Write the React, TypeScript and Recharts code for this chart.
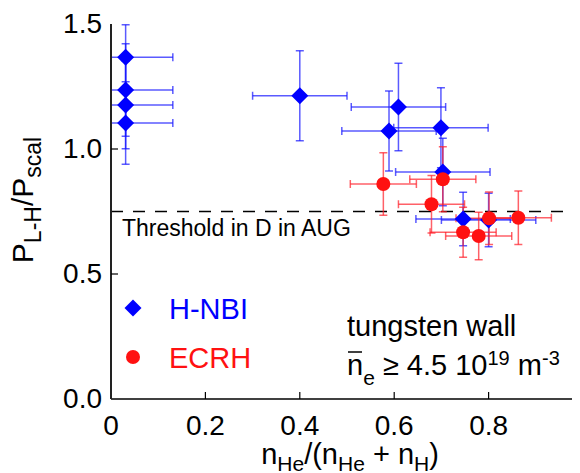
import React from 'react';
import { ScatterChart, Scatter, XAxis, YAxis, ErrorBar, ReferenceLine, Legend } from 'recharts';

const FONT = '"Liberation Sans", Arial, Helvetica, sans-serif';

const xTicks = [0, 0.2, 0.4, 0.6, 0.8, 1];
const xTickLabels = ['0', '0.2', '0.4', '0.6', '0.8', '1'];
const yTicks = [0, 0.5, 1, 1.5];
const yTickLabels = ['0.0', '0.5', '1.0', '1.5'];

// H-NBI series
const nbiX = [0.031, 0.031, 0.031, 0.031, 0.4, 0.609, 0.589, 0.699, 0.703, 0.746, 0.8];
const nbiY = [1.367, 1.236, 1.176, 1.104, 1.213, 1.168, 1.072, 1.085, 0.908, 0.72, 0.716];
const nbiYErr = [0.13, 0.185, 0.175, 0.165, 0.18, 0.175, 0.16, 0.16, 0.135, 0.107, 0.107];
const nbiXErrLow = [0.031, 0.031, 0.031, 0.031, 0.1, 0.1, 0.1, 0.1, 0.1, 0.1, 0.1];
const nbiXErrHigh = [0.1, 0.1, 0.1, 0.1, 0.1, 0.1, 0.1, 0.1, 0.1, 0.1, 0.1];

// ECRH series
const ecrhX = [0.577, 0.703, 0.679, 0.746, 0.779, 0.801, 0.863];
const ecrhY = [0.86, 0.879, 0.779, 0.667, 0.652, 0.723, 0.725];
const ecrhYErr = [0.125, 0.13, 0.115, 0.1, 0.095, 0.105, 0.107];
const ecrhXErr = [0.07, 0.07, 0.07, 0.07, 0.07, 0.07, 0.07];

const threshold = 0.75;
const seriesNames = ['H-NBI', 'ECRH'];
const seriesColors = ['#0000ff', '#ff1111'];
const thresholdText = 'Threshold in D in AUG';
const noteLine1 = 'tungsten wall';

const nbiData = nbiX.map((x, i) => ({ x, y: nbiY[i], ey: nbiYErr[i], ex: [nbiXErrLow[i], nbiXErrHigh[i]] }));
const ecrhData = ecrhX.map((x, i) => ({ x, y: ecrhY[i], ey: ecrhYErr[i], ex: ecrhXErr[i] }));

const Diamond = (props: any) => {
  const { cx, cy } = props;
  const r = 8.5;
  return <path d={`M${cx},${cy - r}L${cx + r},${cy}L${cx},${cy + r}L${cx - r},${cy}Z`} fill={seriesColors[0]} />;
};
const Dot = (props: any) => {
  const { cx, cy } = props;
  return <circle cx={cx} cy={cy} r={7} fill={seriesColors[1]} />;
};

const renderXTick = (p: any) => {
  const idx = xTicks.indexOf(p.payload.value);
  const inner = p.payload.value > 0 && p.payload.value < 1;
  return (
    <g key={`xt-${p.index}`}>
      {inner && <line x1={p.x} x2={p.x} y1={p.y} y2={p.y - 7} stroke="#000" strokeWidth={1.2} />}
      <text x={p.x} y={p.y + 36} textAnchor="middle" fontSize={28} fontFamily={FONT} fill="#000">
        {xTickLabels[idx]}
      </text>
    </g>
  );
};
const renderTopTick = (p: any) => {
  const inner = p.payload.value > 0 && p.payload.value < 1;
  return (
    <g key={`tt-${p.index}`}>
      {inner && <line x1={p.x} x2={p.x} y1={p.y} y2={p.y + 7} stroke="#000" strokeWidth={1.2} />}
    </g>
  );
};
const renderYTick = (p: any) => {
  const idx = yTicks.indexOf(p.payload.value);
  const inner = p.payload.value > 0 && p.payload.value < 1.5;
  return (
    <g key={`yt-${p.index}`}>
      {inner && <line x1={p.x} x2={p.x + 7} y1={p.y} y2={p.y} stroke="#000" strokeWidth={1.2} />}
      <text x={p.x - 9} y={p.y + 9} textAnchor="end" fontSize={28} fontFamily={FONT} fill="#000">
        {yTickLabels[idx]}
      </text>
    </g>
  );
};

const XLabel = (props: any) => {
  const vb = props.viewBox || { x: 103, y: 391, width: 472 };
  const cx = vb.x + vb.width / 2 + 3;
  const by = vb.y + 65;
  return (
    <text x={cx} y={by} textAnchor="middle" fontSize={29} fontFamily={FONT} fill="#000">
      <tspan>n</tspan>
      <tspan fontSize={21} dy={7}>He</tspan>
      <tspan dy={-7}>/(n</tspan>
      <tspan fontSize={21} dy={7}>He</tspan>
      <tspan dy={-7}> + n</tspan>
      <tspan fontSize={21} dy={7}>H</tspan>
      <tspan dy={-7}>)</tspan>
    </text>
  );
};

const YLabel = () => {
  const x = 25;
  const y = 192;
  return (
    <text x={x} y={y} transform={`rotate(-90, ${x}, ${y})`} textAnchor="middle" fontSize={30} fontFamily={FONT} fill="#000">
      <tspan>P</tspan>
      <tspan fontSize={23} dy={8}>L-H</tspan>
      <tspan dy={-8}>/P</tspan>
      <tspan fontSize={23} dy={8}>scal</tspan>
    </text>
  );
};

const ThresholdLabel = (props: any) => {
  const vb = props.viewBox || { x: 103, y: 203.5 };
  return (
    <text x={vb.x + 11} y={vb.y + 24.5} fontSize={23} fontFamily={FONT} fill="#000">
      {thresholdText}
    </text>
  );
};

const renderLegend = (props: any) => {
  const payload = props.payload || [];
  return (
    <svg width={200} height={100} style={{ display: 'block', overflow: 'visible' }}>
      {seriesNames.map((name: string, i: number) => {
        const entry = payload.find((e: any) => e.value === name);
        const cy = 20 + i * 49;
        const color = (entry && entry.color) || seriesColors[i];
        return (
          <g key={`lg-${i}`}>
            {i === 0 ? (
              <path d={`M15,${cy - 8.5}L23.5,${cy}L15,${cy + 8.5}L6.5,${cy}Z`} fill={color} />
            ) : (
              <circle cx={15} cy={cy} r={7} fill={color} />
            )}
            <text x={51} y={cy + 11} fontSize={29} fontFamily={FONT} fill={color}>
              {name}
            </text>
          </g>
        );
      })}
    </svg>
  );
};

const Annotation = () => (
  <g>
    <text x={339} y={328} fontSize={29} fontFamily={FONT} fill="#000">{noteLine1}</text>
    <line x1={340} x2={354} y1={344} y2={344} stroke="#000" strokeWidth={1.5} />
    <text x={339} y={367} fontSize={29} fontFamily={FONT} fill="#000">
      <tspan>n</tspan>
      <tspan fontSize={21} dy={10}>e</tspan>
      <tspan dy={-10}> ≥ 4.5 10</tspan>
      <tspan fontSize={20} dy={-10}>19</tspan>
      <tspan dy={10}> m</tspan>
      <tspan fontSize={20} dy={-10}>-3</tspan>
    </text>
  </g>
);

export default function App() {
  return (
    <div style={{ width: 620, height: 465 }}>
      <ScatterChart width={620} height={465} margin={{ top: 16, right: 45, bottom: 0, left: 0 }}>
        <XAxis
          xAxisId="top"
          orientation="top"
          type="number"
          dataKey="x"
          domain={[0, 1]}
          ticks={xTicks}
          interval={0}
          height={0}
          tickSize={0}
          tickMargin={0}
          axisLine={{ stroke: '#808080', strokeWidth: 2.5 }}
          tickLine={false}
          tick={renderTopTick}
          allowDataOverflow
        />
        <XAxis
          type="number"
          dataKey="x"
          domain={[0, 1]}
          ticks={xTicks}
          interval={0}
          height={74}
          tickSize={0}
          tickMargin={0}
          axisLine={{ stroke: '#000', strokeWidth: 1.5 }}
          tickLine={false}
          tick={renderXTick}
          allowDataOverflow
          label={<XLabel />}
        />
        <YAxis
          type="number"
          dataKey="y"
          domain={[0, 1.5]}
          ticks={yTicks}
          interval={0}
          width={103}
          tickSize={0}
          tickMargin={0}
          axisLine={{ stroke: '#222', strokeWidth: 2 }}
          tickLine={false}
          tick={renderYTick}
          allowDataOverflow
          label={<YLabel />}
        />
        <ReferenceLine y={threshold} stroke="#000" strokeWidth={1.5} strokeDasharray="12 10" label={<ThresholdLabel />} />
        <Legend
          layout="vertical"
          align="center"
          verticalAlign="middle"
          wrapperStyle={{ left: 110, top: 280, width: 200 }}
          content={renderLegend}
        />
        <Scatter name={seriesNames[0]} data={nbiData} fill={seriesColors[0]} legendType="diamond" shape={Diamond} isAnimationActive={false}>
          <ErrorBar dataKey="ey" direction="y" width={4} stroke="rgba(20,20,255,0.7)" strokeWidth={1.5} isAnimationActive={false} />
          <ErrorBar dataKey="ex" direction="x" width={4} stroke="rgba(20,20,255,0.7)" strokeWidth={1.5} isAnimationActive={false} />
        </Scatter>
        <Scatter name={seriesNames[1]} data={ecrhData} fill={seriesColors[1]} legendType="circle" shape={Dot} isAnimationActive={false}>
          <ErrorBar dataKey="ey" direction="y" width={4} stroke="rgba(255,30,40,0.7)" strokeWidth={1.5} isAnimationActive={false} />
          <ErrorBar dataKey="ex" direction="x" width={4} stroke="rgba(255,30,40,0.7)" strokeWidth={1.5} isAnimationActive={false} />
        </Scatter>
        <Annotation />
      </ScatterChart>
    </div>
  );
}
